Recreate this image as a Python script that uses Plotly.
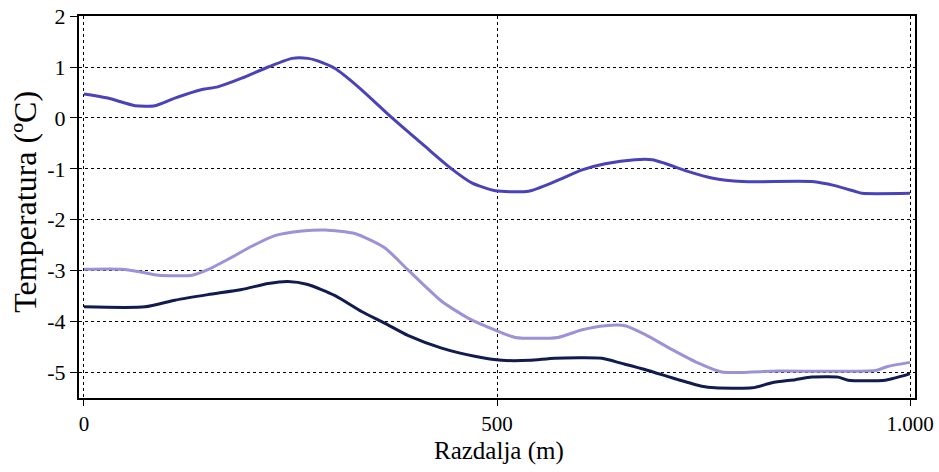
import plotly.graph_objects as go

# Distance (m) and temperature (°C) series
x_top = [0, 29, 62, 86, 110, 143, 162, 191, 223, 252, 271, 283, 304, 332, 373, 413, 445, 470, 498, 538,
         570, 603, 631, 667, 688, 703, 731, 760, 797, 881, 909, 933, 942, 1000]
y_top = [0.47, 0.39, 0.24, 0.24, 0.39, 0.56, 0.61, 0.78, 1.0, 1.17, 1.17, 1.12, 0.97, 0.61, 0.0, -0.56,
         -1.0, -1.28, -1.43, -1.44, -1.25, -1.02, -0.90, -0.82, -0.82, -0.89, -1.05, -1.18, -1.25, -1.25,
         -1.33, -1.44, -1.48, -1.48]

x_light = [0, 46, 70, 90, 131, 150, 174, 203, 231, 264, 292, 328, 364, 392, 433, 465, 500, 522, 574, 603,
           631, 655, 679, 712, 743, 772, 840, 958, 973, 1000]
y_light = [-2.97, -2.97, -3.03, -3.09, -3.09, -2.98, -2.78, -2.52, -2.31, -2.22, -2.20, -2.27, -2.55, -2.98,
           -3.60, -3.93, -4.18, -4.31, -4.31, -4.16, -4.08, -4.08, -4.25, -4.55, -4.81, -4.99, -4.97, -4.96,
           -4.88, -4.80]

x_dark = [0, 74, 110, 150, 191, 223, 247, 271, 304, 336, 364, 392, 433, 473, 506, 540, 570, 627, 651, 679,
          719, 748, 764, 809, 833, 861, 881, 913, 925, 970, 990, 1000]
y_dark = [-3.71, -3.71, -3.58, -3.47, -3.37, -3.25, -3.21, -3.27, -3.49, -3.80, -4.03, -4.27, -4.52, -4.68,
          -4.76, -4.76, -4.72, -4.72, -4.82, -4.94, -5.14, -5.27, -5.30, -5.30, -5.20, -5.14, -5.09, -5.09,
          -5.15, -5.15, -5.07, -5.02]

x_tickvals = [0, 500, 1000]
x_ticktext = ["0", "500", "1.000"]
y_tickvals = [2, 1, 0, -1, -2, -3, -4, -5]
y_ticktext = ["2", "1", "0", "-1", "-2", "-3", "-4", "-5"]

x_title = "Razdalja (m)"
y_title = "Temperatura (ºC)"

FONT = "Liberation Serif"

fig = go.Figure()
series = [
    (x_top, y_top, "#4a42b8"),
    (x_light, y_light, "#9c92d8"),
    (x_dark, y_dark, "#101b4f"),
]
for xs, ys, col in series:
    fig.add_trace(go.Scatter(x=xs, y=ys, mode="lines",
                             line=dict(color=col, width=3, shape="spline", smoothing=0.6),
                             showlegend=False, hoverinfo="skip"))

fig.update_layout(
    width=939, height=472,
    margin=dict(l=79, r=24, t=16, b=74, autoexpand=False),
    paper_bgcolor="white", plot_bgcolor="white",
    font=dict(family=FONT, color="black", size=22),
    showlegend=False,
    annotations=[
        dict(text=x_title, xref="paper", yref="paper", x=0.502, y=-0.14,
             xanchor="center", yanchor="middle", showarrow=False,
             font=dict(family=FONT, size=25, color="black")),
        dict(text=y_title, xref="paper", yref="paper", x=-0.065, y=0.513,
             xanchor="center", yanchor="middle", showarrow=False, textangle=-90,
             font=dict(family=FONT, size=32, color="black")),
    ],
)
fig.update_xaxes(
    range=[-6, 1006], tickvals=x_tickvals, ticktext=x_ticktext,
    showgrid=True, gridcolor="black", griddash="dot", gridwidth=1,
    showline=True, linecolor="black", linewidth=2, mirror=True,
    ticks="outside", ticklen=6, tickcolor="black", tickwidth=1,
    tickfont=dict(family=FONT, size=21), ticklabeloverflow="allow",
    zeroline=False, automargin=False,
)
fig.update_yaxes(
    range=[-5.5, 2.002], tickvals=y_tickvals, ticktext=y_ticktext,
    showgrid=True, gridcolor="black", griddash="dot", gridwidth=1,
    showline=True, linecolor="black", linewidth=2, mirror=True,
    ticks="outside", ticklen=7, tickcolor="black", tickwidth=1,
    tickfont=dict(family=FONT, size=22), ticklabeloverflow="allow",
    zeroline=False, automargin=False,
)

# remove the browser's default page margin so the figure sits at the window's corner
fig.write_html("out.html", config={"displayModeBar": False},
               post_script="document.body.style.margin='0';")
